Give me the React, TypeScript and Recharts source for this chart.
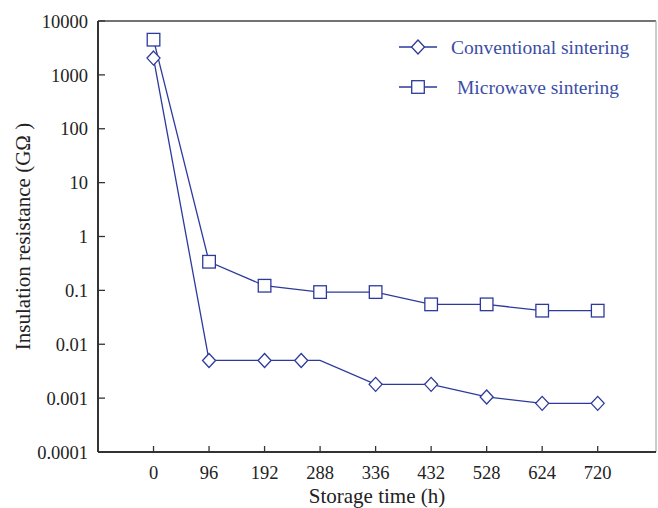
import React from 'react';
import { LineChart, Line, XAxis, YAxis, ReferenceLine } from 'recharts';

// x positions are category slots (ticks are evenly spaced even though hours are not)
const tickLabels = ['0', '96', '192', '288', '336', '432', '528', '624', '720'];
const tickSlots = [0, 1, 2, 3, 4, 5, 6, 7, 8];
const yTicks = [0.0001, 0.001, 0.01, 0.1, 1, 10, 100, 1000, 10000];

const convSlots = [0, 1, 2, 2.66, 3, 4, 5, 6, 7, 8];
const convValues = [2050, 0.005, 0.005, 0.005, 0.005, 0.0018, 0.0018, 0.00105, 0.0008, 0.0008];
const convMarker = [true, true, true, true, false, true, true, true, true, true];

const microSlots = [0, 1, 2, 3, 4, 5, 6, 7, 8];
const microValues = [4500, 0.34, 0.122, 0.093, 0.093, 0.055, 0.055, 0.042, 0.042];

const convData = convSlots.map((x, i) => ({ x, v: convValues[i], m: convMarker[i] }));
const microData = microSlots.map((x, i) => ({ x, v: microValues[i], m: true }));

const LINE = '#2d3a9c';
const TEXT = '#222';
const FONT = '"Liberation Serif", "Times New Roman", serif';
const X_MARGIN = 8;
const Y_MARGIN = 10;
const X_MAX = 9.05;

const Diamond = ({ cx, cy }: any) => (
    <path d={`M${cx},${cy - 7}L${cx + 6.5},${cy}L${cx},${cy + 7}L${cx - 6.5},${cy}Z`} fill="#fff" stroke={LINE} strokeWidth={1.3} />
);
const Square = ({ cx, cy }: any) => (
    <rect x={cx - 6.3} y={cy - 6.3} width={12.6} height={12.6} fill="#fff" stroke={LINE} strokeWidth={1.3} />
);

const convDot = (props: any) => {
    const { cx, cy, payload, index } = props;
    if (!payload.m) return <g key={`c${index}`} />;
    return <Diamond key={`c${index}`} cx={cx} cy={cy} />;
};
const microDot = (props: any) => <Square key={`m${props.index}`} cx={props.cx} cy={props.cy} />;

const XTick = (props: any) => {
    const { x, y, payload } = props;
    const axisY = y - X_MARGIN;
    return (
        <g>
            <line x1={x} x2={x} y1={axisY} y2={axisY - 6} stroke="#333" strokeWidth={1.3} />
            <text x={x} y={y} dy="1.05em" textAnchor="middle" fill={TEXT} style={{ fontFamily: FONT, fontSize: 18.5 }}>
                {tickLabels[payload.value]}
            </text>
        </g>
    );
};

const YTick = (props: any) => {
    const { x, y, payload } = props;
    const axisX = x + Y_MARGIN;
    return (
        <g>
            <line x1={axisX} x2={axisX + 7} y1={y} y2={y} stroke="#333" strokeWidth={1.3} />
            <text x={x} y={y} dy="0.36em" textAnchor="end" fill={TEXT} style={{ fontFamily: FONT, fontSize: 18.5 }}>
                {String(payload.value)}
            </text>
        </g>
    );
};

const XTitle = ({ viewBox }: any) => (
    <text x={viewBox.x + viewBox.width / 2} y={viewBox.y + 51} textAnchor="middle" fill={TEXT} style={{ fontFamily: FONT, fontSize: 21 }}>
        Storage time (h)
    </text>
);

const YTitle = ({ viewBox }: any) => {
    const cx = 23;
    const cy = viewBox.y + viewBox.height / 2;
    return (
        <text x={cx} y={cy} dy="0.35em" textAnchor="middle" transform={`rotate(-90 ${cx} ${cy})`} fill={TEXT} style={{ fontFamily: FONT, fontSize: 21 }}>
            Insulation resistance (GΩ )
        </text>
    );
};

const LegendBox = () => (
    <svg width={262} height={80} style={{ position: 'absolute', left: 395, top: 30, fontFamily: FONT }}>
        <line x1={4} x2={42} y1={17} y2={17} stroke={LINE} strokeWidth={1.3} />
        <Diamond cx={23} cy={17} />
        <text x={56} y={17} dy="0.35em" fill="#3a4ea6" style={{ fontSize: 19.5 }}>Conventional sintering</text>
        <line x1={4} x2={42} y1={57} y2={57} stroke={LINE} strokeWidth={1.3} />
        <Square cx={23} cy={57} />
        <text x={62} y={57} dy="0.35em" fill="#3a4ea6" style={{ fontSize: 19.5 }}>Microwave sintering</text>
    </svg>
);

export default function App() {
    return (
        <div style={{ position: 'absolute', left: 0, top: 0, width: 658, height: 508, background: '#fff', fontFamily: FONT }}>
            <LineChart width={658} height={508} margin={{ top: 21, right: 2, bottom: 0, left: 0 }}>
                <ReferenceLine y={10000} stroke="#444" strokeWidth={1.5} />
                <ReferenceLine x={X_MAX} stroke="#aaa" strokeWidth={1.2} />
                <XAxis
                    dataKey="x"
                    type="number"
                    domain={[-1, X_MAX]}
                    ticks={tickSlots}
                    interval={0}
                    allowDataOverflow
                    height={56}
                    tickSize={0}
                    tickMargin={X_MARGIN}
                    tickLine={false}
                    tick={<XTick />}
                    axisLine={{ stroke: '#333', strokeWidth: 2 }}
                    label={<XTitle />}
                />
                <YAxis
                    scale="log"
                    type="number"
                    domain={[0.0001, 10000]}
                    ticks={yTicks}
                    interval={0}
                    allowDataOverflow
                    width={98}
                    tickSize={0}
                    tickMargin={Y_MARGIN}
                    tickLine={false}
                    tick={<YTick />}
                    axisLine={{ stroke: '#333', strokeWidth: 2 }}
                    label={<YTitle />}
                />
                <Line
                    data={convData}
                    dataKey="v"
                    name="Conventional sintering"
                    stroke={LINE}
                    strokeWidth={1.3}
                    dot={convDot}
                    activeDot={false}
                    isAnimationActive={false}
                />
                <Line
                    data={microData}
                    dataKey="v"
                    name="Microwave sintering"
                    stroke={LINE}
                    strokeWidth={1.3}
                    dot={microDot}
                    activeDot={false}
                    isAnimationActive={false}
                />
            </LineChart>
            <LegendBox />
        </div>
    );
}
